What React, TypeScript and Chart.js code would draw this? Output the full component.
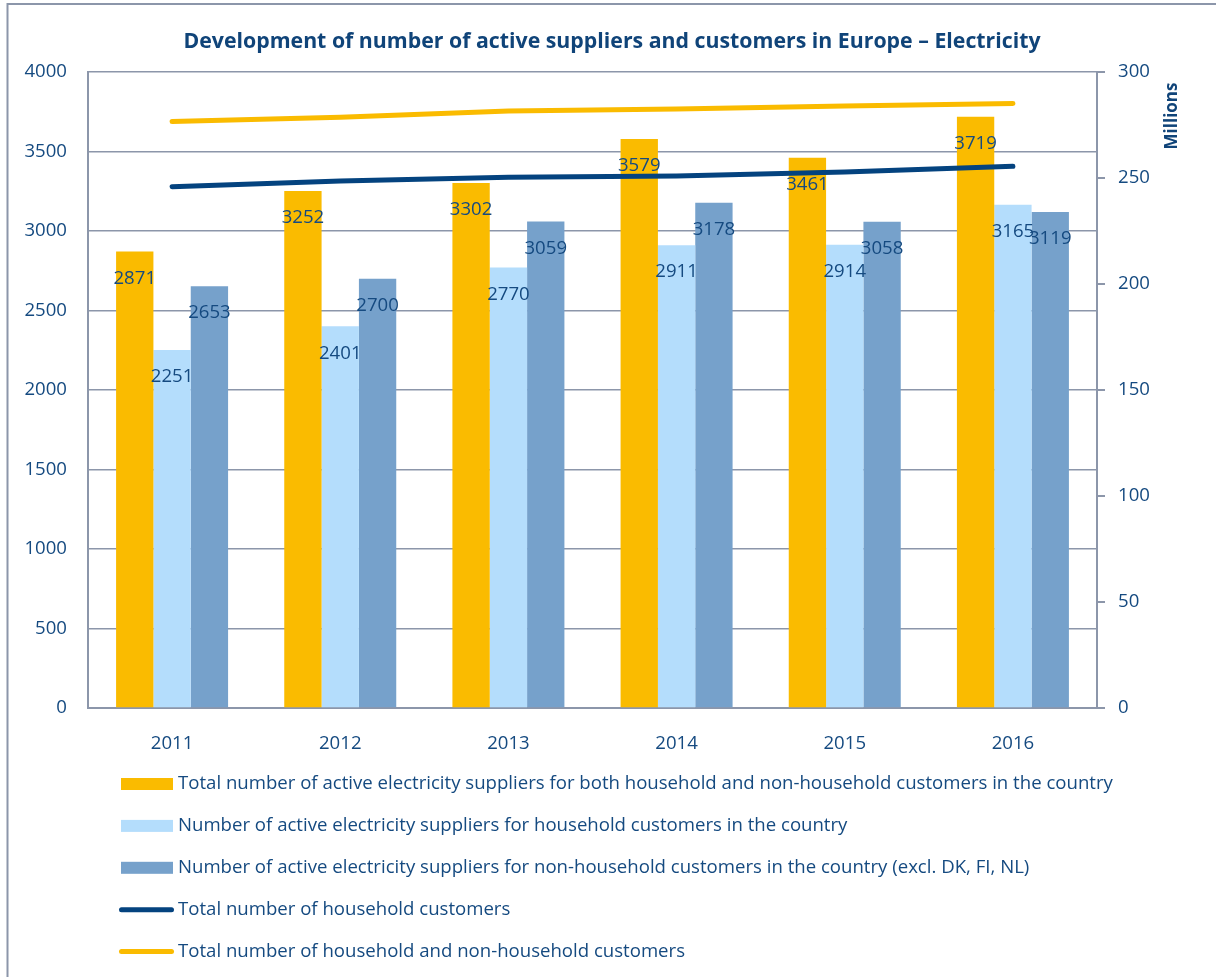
import React, { useEffect, useRef } from "react";
import { Chart, registerables } from "chart.js";

Chart.register(...registerables);

const categories = ["2011", "2012", "2013", "2014", "2015", "2016"];
const totalSuppliers = [2871, 3252, 3302, 3579, 3461, 3719];
const householdSuppliers = [2251, 2401, 2770, 2911, 2914, 3165];
const nonHouseholdSuppliers = [2653, 2700, 3059, 3178, 3058, 3119];
const householdCustomers = [245.9, 248.6, 250.3, 250.9, 252.8, 255.5];
const allCustomers = [276.6, 278.6, 281.6, 282.5, 284.0, 285.2];

const seriesLabels = [
  "Total number of active electricity suppliers for both household and non-household customers in the country",
  "Number of active electricity suppliers for household customers in the country",
  "Number of active electricity suppliers for non-household customers in the country (excl. DK, FI, NL)",
  "Total number of household customers",
  "Total number of household and non-household customers",
];

const titleText = "Development of number of active suppliers and customers in Europe \u2013 Electricity";
const rightAxisTitle = "Millions";

const FONT = "'Open Sans', sans-serif";
const TEXT = "#154A80";
const TITLE = "#104479";
const GRID = "#8C96AA";
const ORANGE = "#FABB00";
const LIGHT = "#B4DDFC";
const MID = "#76A1CB";
const NAVY = "#04437F";
const FS = 18.6;

const W = 1216;
const H = 977;

const decorPlugin = {
  id: "decor",
  beforeDraw(chart: any) {
    const ctx = chart.ctx;
    ctx.save();
    ctx.fillStyle = "#ffffff";
    ctx.fillRect(0, 0, chart.width, chart.height);
    ctx.strokeStyle = GRID;
    ctx.lineWidth = 2;
    ctx.beginPath();
    ctx.moveTo(7.5, chart.height);
    ctx.lineTo(7.5, 4);
    ctx.lineTo(chart.width, 4);
    ctx.stroke();
    ctx.restore();
  },
  afterDatasetsDraw(chart: any) {
    const ctx = chart.ctx;
    ctx.save();
    ctx.font = `${FS}px ${FONT}`;
    ctx.fillStyle = TEXT;
    ctx.textAlign = "center";
    ctx.textBaseline = "middle";
    chart.data.datasets.forEach((ds: any, i: number) => {
      if (ds.type !== "bar") return;
      const meta = chart.getDatasetMeta(i);
      meta.data.forEach((el: any, j: number) => {
        ctx.fillText(String(ds.data[j]), el.x, el.y + 27);
      });
    });
    ctx.restore();
  },
  afterDraw(chart: any) {
    const ctx = chart.ctx;
    ctx.save();
    // title
    ctx.font = `bold 21.3px ${FONT}`;
    ctx.fillStyle = TITLE;
    ctx.textAlign = "center";
    ctx.textBaseline = "middle";
    ctx.fillText(titleText, 612, 42);
    // right axis title
    ctx.save();
    ctx.translate(1172, 116);
    ctx.rotate(-Math.PI / 2);
    ctx.font = `bold 17px ${FONT}`;
    ctx.fillText(rightAxisTitle, 0, 0);
    ctx.restore();
    // legend
    ctx.font = `${FS}px ${FONT}`;
    ctx.textAlign = "left";
    ctx.fillStyle = TEXT;
    chart.data.datasets.forEach((ds: any, i: number) => {
      const y = 784 + i * 41.9;
      if (ds.type === "bar") {
        ctx.fillStyle = ds.backgroundColor;
        ctx.fillRect(121, y - 6, 52, 12);
      } else {
        ctx.strokeStyle = ds.borderColor;
        ctx.lineWidth = 5;
        ctx.lineCap = "round";
        ctx.beginPath();
        ctx.moveTo(121.5, y);
        ctx.lineTo(171.5, y);
        ctx.stroke();
      }
      ctx.fillStyle = TEXT;
      ctx.fillText(ds.label, 178, y);
    });
    ctx.restore();
  },
};

export default function App() {
  const ref = useRef<HTMLCanvasElement | null>(null);

  useEffect(() => {
    if (!ref.current) return;
    const chart = new Chart(ref.current, {
      type: "bar",
      data: {
        labels: categories,
        datasets: [
          {
            type: "bar",
            label: seriesLabels[0],
            data: totalSuppliers,
            backgroundColor: ORANGE,
            yAxisID: "y",
            order: 2,
            barPercentage: 1,
            categoryPercentage: 0.666,
          },
          {
            type: "bar",
            label: seriesLabels[1],
            data: householdSuppliers,
            backgroundColor: LIGHT,
            yAxisID: "y",
            order: 2,
            barPercentage: 1,
            categoryPercentage: 0.666,
          },
          {
            type: "bar",
            label: seriesLabels[2],
            data: nonHouseholdSuppliers,
            backgroundColor: MID,
            yAxisID: "y",
            order: 2,
            barPercentage: 1,
            categoryPercentage: 0.666,
          },
          {
            type: "line",
            label: seriesLabels[3],
            data: householdCustomers,
            borderColor: NAVY,
            backgroundColor: NAVY,
            borderWidth: 5,
            borderCapStyle: "round",
            pointRadius: 0,
            tension: 0,
            yAxisID: "y1",
            order: 1,
          },
          {
            type: "line",
            label: seriesLabels[4],
            data: allCustomers,
            borderColor: ORANGE,
            backgroundColor: ORANGE,
            borderWidth: 5,
            borderCapStyle: "round",
            pointRadius: 0,
            tension: 0,
            yAxisID: "y1",
            order: 0,
          },
        ] as any,
      },
      options: {
        responsive: false,
        animation: false,
        devicePixelRatio: 1,
        layout: { padding: { top: 72, bottom: 219, left: 0, right: 0 } },
        plugins: {
          legend: { display: false },
          title: { display: false },
          tooltip: { enabled: false },
        },
        scales: {
          x: {
            offset: true,
            grid: { display: false },
            border: { display: true, color: GRID, width: 2 },
            ticks: { color: TEXT, font: { family: FONT, size: FS }, padding: 17 },
            afterFit: (s: any) => {
              s.height = 50;
            },
          },
          y: {
            position: "left",
            min: 0,
            max: 4000,
            ticks: {
              stepSize: 500,
              color: TEXT,
              font: { family: FONT, size: FS },
              padding: 21,
              callback: (v: any) => String(v),
            },
            grid: { color: GRID, lineWidth: 1.6, drawTicks: false },
            border: { display: true, color: GRID, width: 2 },
            afterFit: (s: any) => {
              s.width = 88;
            },
          },
          y1: {
            position: "right",
            min: 0,
            max: 300,
            ticks: {
              stepSize: 50,
              color: TEXT,
              font: { family: FONT, size: FS },
              padding: 13,
              callback: (v: any) => String(v),
            },
            grid: { drawOnChartArea: false, drawTicks: true, tickLength: 8, color: GRID, lineWidth: 2 },
            border: { display: true, color: GRID, width: 2 },
            afterFit: (s: any) => {
              s.width = W - 1097;
            },
          },
        },
      } as any,
      plugins: [decorPlugin],
    });
    return () => chart.destroy();
  }, []);

  return (
    <div style={{ position: "absolute", left: 0, top: 0, width: W, height: H }}>
      <canvas ref={ref} width={W} height={H} style={{ display: "block", width: W, height: H }} />
    </div>
  );
}
